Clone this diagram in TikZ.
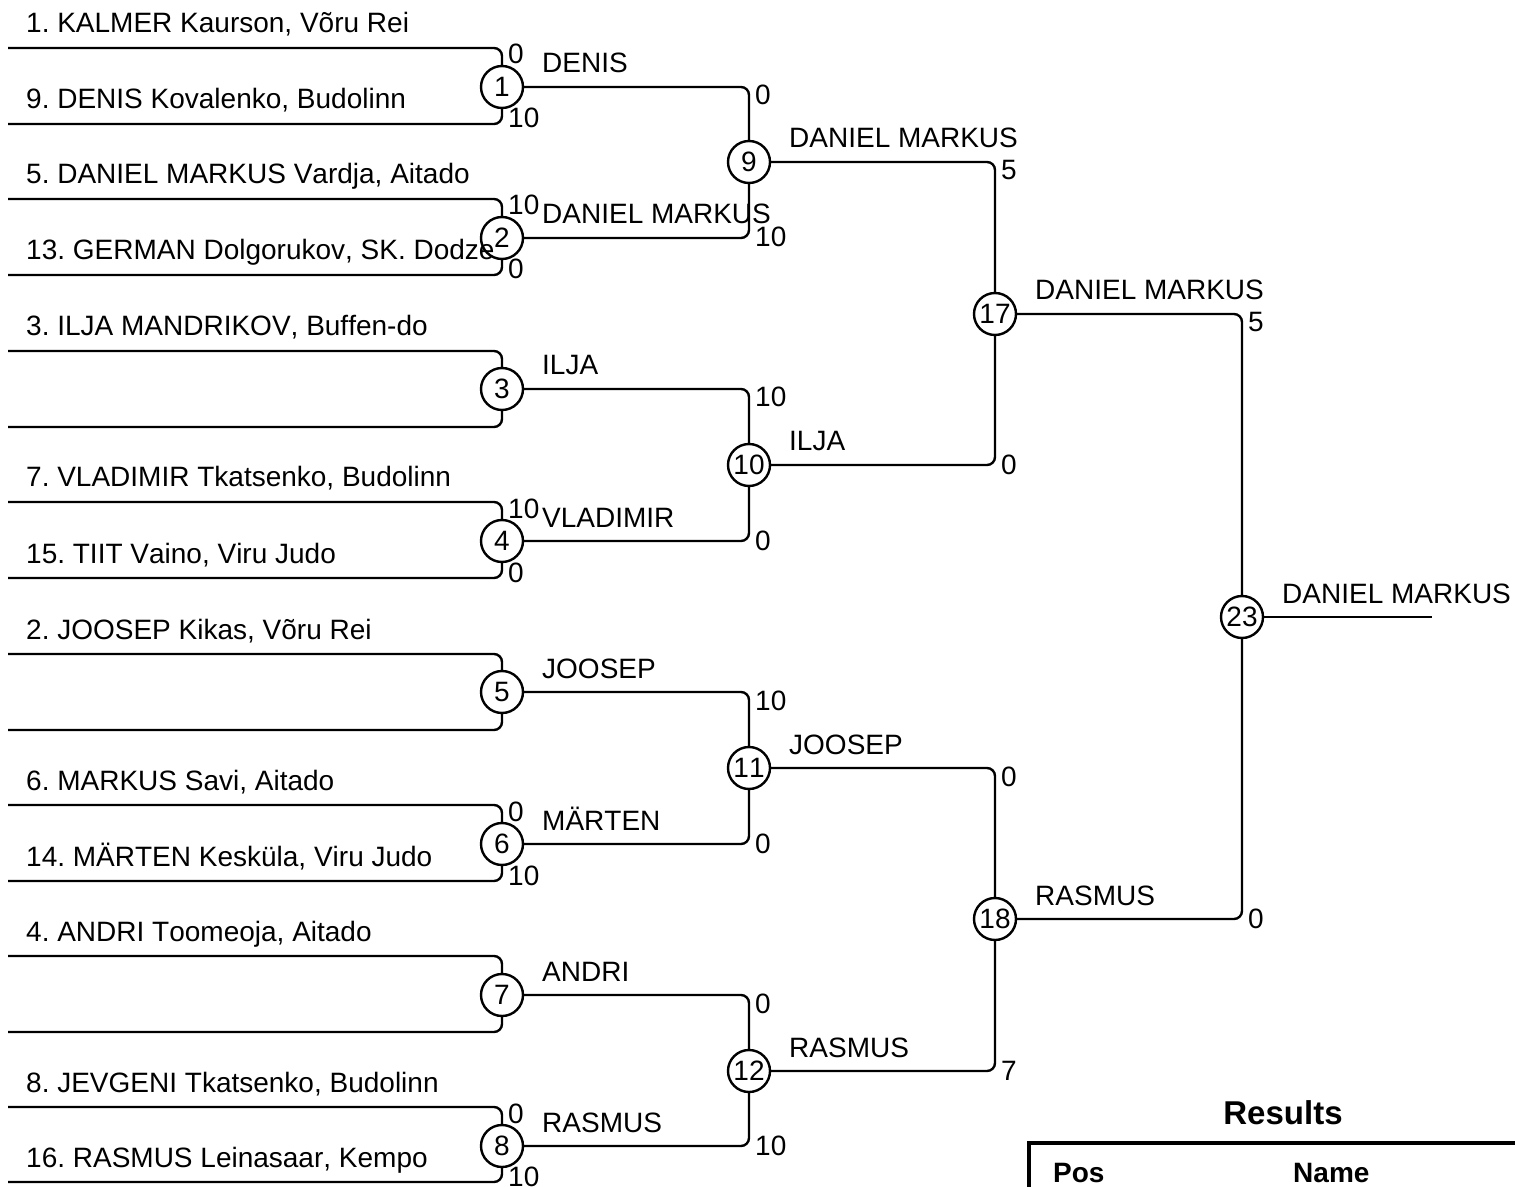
\documentclass[tikz,border=0pt]{standalone}
\usepackage{fontspec}
\setmainfont{Liberation Sans}[Kerning=Off]
\usepackage{tikz}
\usetikzlibrary{arrows.meta}
\frenchspacing

\begin{document}
\begin{tikzpicture}[x=0.5pt, y=-0.5pt, line width=1.2pt, rounded corners=4pt,
		font=\fontsize{14}{16}\selectfont,
		match/.style={circle, draw, line width=1.2pt, minimum size=21pt, inner sep=0pt},
		entrant/.style={anchor=base west, inner sep=0pt, xshift=8.5pt, yshift=7.5pt},
		winner/.style={anchor=base west, inner sep=0pt, xshift=19.5pt, yshift=7pt},
		sc1t/.style={anchor=base west, inner sep=0pt, xshift=2.5pt, yshift=-8pt},
		sc1b/.style={anchor=base west, inner sep=0pt, xshift=2.5pt, yshift=-2pt},
		sct/.style={anchor=base west, inner sep=0pt, xshift=2.5pt, yshift=-9pt},
		scb/.style={anchor=base west, inner sep=0pt, xshift=2.5pt, yshift=-4.5pt}]
			\useasboundingbox (0,0) rectangle (1515,1187);
			
			% first round
			\node[match] (m1) at (502,87) {1};
			\node[match] (m2) at (502,238) {2};
			\node[match] (m3) at (502,389) {3};
			\node[match] (m4) at (502,541) {4};
			\node[match] (m5) at (502,692) {5};
			\node[match] (m6) at (502,844) {6};
			\node[match] (m7) at (502,995) {7};
			\node[match] (m8) at (502,1146) {8};
			
			\coordinate (a1) at (8,48);   \coordinate (b1) at (8,124);
			\coordinate (a2) at (8,199);  \coordinate (b2) at (8,275);
			\coordinate (a3) at (8,351);  \coordinate (b3) at (8,427);
			\coordinate (a4) at (8,502);  \coordinate (b4) at (8,578);
			\coordinate (a5) at (8,654);  \coordinate (b5) at (8,730);
			\coordinate (a6) at (8,805);  \coordinate (b6) at (8,881);
			\coordinate (a7) at (8,956);  \coordinate (b7) at (8,1032);
			\coordinate (a8) at (8,1107); \coordinate (b8) at (8,1182);
			
			\draw (a1) node[entrant] (e1) {1. KALMER Kaurson, Võru Rei} -- (a1 -| m1) node[sc1t] (s1a) {0} -- (m1);
			\draw (b1) node[entrant] (e9) {9. DENIS Kovalenko, Budolinn} -- (b1 -| m1) node[sc1b] (s1b) {10} -- (m1);
			\draw (a2) node[entrant] (e5) {5. DANIEL MARKUS Vardja, Aitado} -- (a2 -| m2) node[sc1t] (s2a) {10} -- (m2);
			\draw (b2) node[entrant] (e13) {13. GERMAN Dolgorukov, SK. Dodze} -- (b2 -| m2) node[sc1b] (s2b) {0} -- (m2);
			\draw (a3) node[entrant] (e3) {3. ILJA MANDRIKOV, Buffen-do} -- (a3 -| m3) -- (m3);
			\draw (b3) -- (b3 -| m3) -- (m3);
			\draw (a4) node[entrant] (e7) {7. VLADIMIR Tkatsenko, Budolinn} -- (a4 -| m4) node[sc1t] (s4a) {10} -- (m4);
			\draw (b4) node[entrant] (e15) {15. TIIT Vaino, Viru Judo} -- (b4 -| m4) node[sc1b] (s4b) {0} -- (m4);
			\draw (a5) node[entrant] (e2) {2. JOOSEP Kikas, Võru Rei} -- (a5 -| m5) -- (m5);
			\draw (b5) -- (b5 -| m5) -- (m5);
			\draw (a6) node[entrant] (e6) {6. MARKUS Savi, Aitado} -- (a6 -| m6) node[sc1t] (s6a) {0} -- (m6);
			\draw (b6) node[entrant] (e14) {14. MÄRTEN Kesküla, Viru Judo} -- (b6 -| m6) node[sc1b] (s6b) {10} -- (m6);
			\draw (a7) node[entrant] (e4) {4. ANDRI Toomeoja, Aitado} -- (a7 -| m7) -- (m7);
			\draw (b7) -- (b7 -| m7) -- (m7);
			\draw (a8) node[entrant] (e8) {8. JEVGENI Tkatsenko, Budolinn} -- (a8 -| m8) node[sc1t] (s8a) {0} -- (m8);
			\draw (b8) node[entrant] (e16) {16. RASMUS Leinasaar, Kempo} -- (b8 -| m8) node[sc1b] (s8b) {10} -- (m8);
			
			% second round
			\node[match] (m9) at (749,162) {9};
			\node[match] (m10) at (749,465) {10};
			\node[match] (m11) at (749,768) {11};
			\node[match] (m12) at (749,1071) {12};
			
			\draw (m1) node[winner] (w1) {DENIS} -- (m1 -| m9) node[sct] (s9a) {0} -- (m9);
			\draw (m2) node[winner] (w2) {DANIEL MARKUS} -- (m2 -| m9) node[scb] (s9b) {10} -- (m9);
			\draw (m3) node[winner] (w3) {ILJA} -- (m3 -| m10) node[sct] (s10a) {10} -- (m10);
			\draw (m4) node[winner] (w4) {VLADIMIR} -- (m4 -| m10) node[scb] (s10b) {0} -- (m10);
			\draw (m5) node[winner] (w5) {JOOSEP} -- (m5 -| m11) node[sct] (s11a) {10} -- (m11);
			\draw (m6) node[winner] (w6) {MÄRTEN} -- (m6 -| m11) node[scb] (s11b) {0} -- (m11);
			\draw (m7) node[winner] (w7) {ANDRI} -- (m7 -| m12) node[sct] (s12a) {0} -- (m12);
			\draw (m8) node[winner] (w8) {RASMUS} -- (m8 -| m12) node[scb] (s12b) {10} -- (m12);
			
			% semi finals
			\node[match] (m17) at (995,314) {17};
			\node[match] (m18) at (995,919) {18};
			
			\draw (m9) node[winner] (w9) {DANIEL MARKUS} -- (m9 -| m17) node[sct] (s17a) {5} -- (m17);
			\draw (m10) node[winner] (w10) {ILJA} -- (m10 -| m17) node[scb] (s17b) {0} -- (m17);
			\draw (m11) node[winner] (w11) {JOOSEP} -- (m11 -| m18) node[sct] (s18a) {0} -- (m18);
			\draw (m12) node[winner] (w12) {RASMUS} -- (m12 -| m18) node[scb] (s18b) {7} -- (m18);
			
			% final
			\node[match] (m23) at (1242,617) {23};
			\coordinate (fin) at (1432,617);
			
			\draw (m17) node[winner] (w17) {DANIEL MARKUS} -- (m17 -| m23) node[sct] (s23a) {5} -- (m23);
			\draw (m18) node[winner] (w18) {RASMUS} -- (m18 -| m23) node[scb] (s23b) {0} -- (m23);
			\draw (m23) node[winner] (w23) {DANIEL MARKUS} -- (fin);
			
			% results
			\node[anchor=base, inner sep=0pt, font=\bfseries\fontsize{16.5}{19}\selectfont] (res) at (1283,1124) {Results};
			\draw[line width=2pt, sharp corners] (1029,1195) -- (1029,1143) -- (1525,1143);
			\node[anchor=base west, inner sep=0pt, font=\bfseries\fontsize{14}{16}\selectfont] (pos) at (1052,1182) {Pos};
			\node[anchor=base west, inner sep=0pt, font=\bfseries\fontsize{14}{16}\selectfont] (nam) at (1292,1182) {Name};
		\end{tikzpicture}
\end{document}
